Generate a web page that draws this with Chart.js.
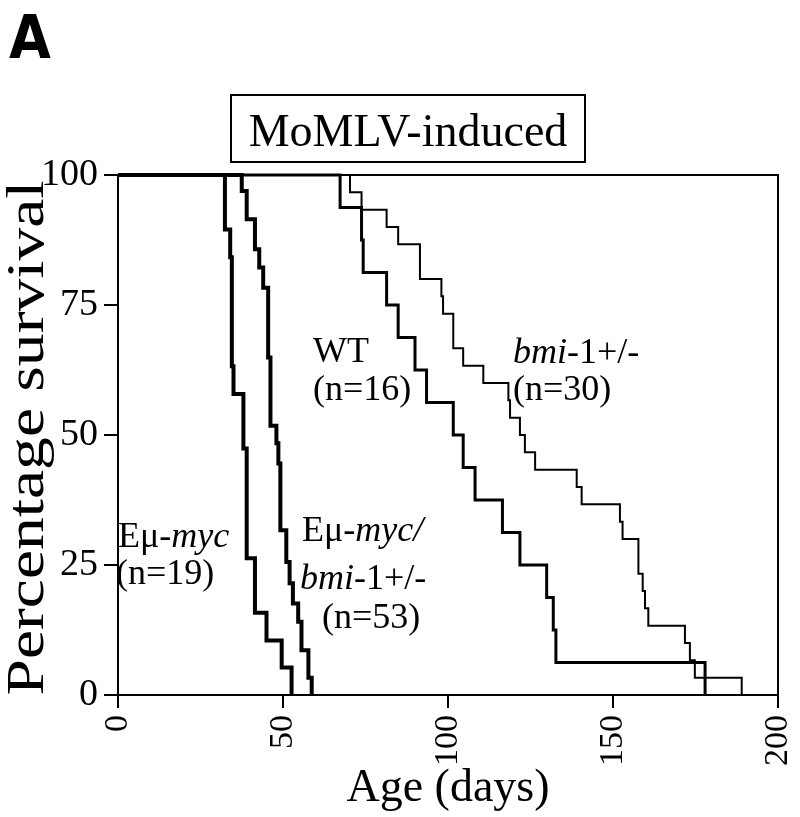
<!DOCTYPE html>
<html>
<head>
<meta charset="utf-8">
<script src="https://cdn.jsdelivr.net/npm/chart.js@4.4.0/dist/chart.umd.min.js"></script>
<style>
  html, body { margin: 0; padding: 0; background: #fff; }
</style>
</head>
<body>
<canvas id="survChart" width="800" height="817"></canvas>
<script>
// survival curves: day of each drop and % still alive after it
const mycDays = [0, 32.4, 34, 34.5, 35, 38, 39, 41.5, 45, 49.6, 52.6];
const mycSurv = [100, 89.5, 84.2, 63.2, 57.9, 47.4, 26.3, 15.8, 10.5, 5.3, 0];

const mycBmiDays = [0, 37.5, 39, 41.5, 42.8, 44, 45.5, 46.2, 48, 48.6, 49.2, 51, 52, 53, 54.6, 55.6, 57.7, 58.7];
const mycBmiSurv = [100, 96.9, 91.5, 85.7, 82.2, 78.3, 64.9, 51.8, 48.4, 44.5, 31.7, 25.6, 21.5, 17.6, 14.1, 8.6, 3.3, 0];

const wtDays = [0, 67.3, 73.8, 74.3, 81.4, 84.9, 90, 93.5, 101.6, 104.6, 108.2, 116.5, 121.8, 129.9, 131.9, 132.7, 177.9];
const wtSurv = [100, 93.75, 87.5, 81.25, 75, 68.75, 62.5, 56.25, 50, 43.75, 37.5, 31.25, 25, 18.75, 12.5, 6.25, 0];

const bmiDays = [0, 70.3, 73.8, 81.4, 84.9, 91.5, 98, 98.5, 101.6, 104.6, 110.7, 118.3, 118.8, 121.8, 123.3, 126.4,
                 139, 140.5, 152.1, 152.9, 157.7, 159, 159.7, 160.7, 171.8, 173.3, 174.8, 189];
const bmiSurv = [100, 96.67, 93.33, 90, 86.67, 80, 76.67, 73.33, 66.67, 63.33, 60, 56.67, 53.33, 50, 46.67, 43.33,
                 40, 36.67, 33.33, 30, 23.33, 20, 16.67, 13.33, 10, 6.67, 3.33, 0];

const xTicks = [0, 50, 100, 150, 200];
const yTicks = [0, 25, 50, 75, 100];

const serif = "'Liberation Serif', 'Times New Roman', serif";

function toPoints(days, surv) {
    return days.map((d, i) => ({ x: d, y: surv[i] }));
}

function curve(days, surv, width) {
    return {
        data: toPoints(days, surv),
        stepped: true,
        borderColor: '#000',
        borderWidth: width,
        pointRadius: 0,
        fill: false,
        clip: 8
    };
}

// draw a line of text made of plain/italic pieces
function drawRuns(ctx, x, y, runs, size) {
    ctx.textBaseline = 'alphabetic';
    ctx.textAlign = 'left';
    runs.forEach(r => {
        ctx.font = (r[1] ? 'italic ' : '') + size + 'px ' + serif;
        ctx.fillText(r[0], x, y);
        x += ctx.measureText(r[0]).width;
    });
}

const decorations = {
    id: 'decorations',
    afterDraw(chart) {
        const ctx = chart.ctx;
        const a = chart.chartArea;
        ctx.save();
        ctx.strokeStyle = '#000';
        ctx.fillStyle = '#000';

        // top and right edges of the frame
        ctx.lineWidth = 2;
        ctx.beginPath();
        ctx.moveTo(a.left, a.top);
        ctx.lineTo(a.right, a.top);
        ctx.lineTo(a.right, a.bottom);
        ctx.stroke();

        // panel letter
        ctx.font = "bold 60px 'DejaVu Sans Condensed', 'Liberation Sans Narrow', sans-serif";
        ctx.textBaseline = 'alphabetic';
        ctx.textAlign = 'left';
        ctx.fillText('A', 9, 58);

        // boxed title
        ctx.lineWidth = 2;
        ctx.strokeRect(231, 95, 354, 67);
        ctx.font = '46px ' + serif;
        ctx.textAlign = 'center';
        ctx.fillText('MoMLV-induced', 408, 146);

        // y axis title, set by hand so it can run the full height of the frame
        ctx.save();
        ctx.translate(29, (a.top + a.bottom) / 2 + 3);
        ctx.rotate(-Math.PI / 2);
        ctx.font = '52px ' + serif;
        ctx.textBaseline = 'middle';
        ctx.textAlign = 'center';
        const w = ctx.measureText('Percentage survival').width;
        ctx.scale(515 / w, 1);
        ctx.fillText('Percentage survival', 0, 0);
        ctx.restore();

        // curve labels
        const s = 36;
        drawRuns(ctx, 313, 362, [['WT', false]], s);
        drawRuns(ctx, 313, 400, [['(n=16)', false]], s);
        drawRuns(ctx, 513, 363, [['bmi', true], ['-1+/-', false]], s);
        drawRuns(ctx, 513, 400, [['(n=30)', false]], s);
        drawRuns(ctx, 118, 547, [['E\u03bc-', false], ['myc', true]], s);
        drawRuns(ctx, 116, 584, [['(n=19)', false]], s);
        drawRuns(ctx, 302, 541, [['E\u03bc-', false], ['myc/', true]], s);
        drawRuns(ctx, 300, 589, [['bmi', true], ['-1+/-', false]], s);
        drawRuns(ctx, 322, 628, [['(n=53)', false]], s);
        ctx.restore();
    }
};

const ctx = document.getElementById('survChart').getContext('2d');
const survChart = new Chart(ctx, {
    type: 'line',
    data: {
        datasets: [
            curve(mycDays, mycSurv, 4),
            curve(mycBmiDays, mycBmiSurv, 4),
            curve(wtDays, wtSurv, 3),
            curve(bmiDays, bmiSurv, 2)
        ]
    },
    options: {
        responsive: false,
        animation: false,
        layout: {
            padding: { top: 175, right: 22, bottom: 0, left: 0 }
        },
        plugins: {
            legend: { display: false },
            tooltip: { enabled: false }
        },
        scales: {
            x: {
                type: 'linear',
                min: 0,
                max: 200,
                afterBuildTicks: (scale) => { scale.ticks = xTicks.map(v => ({ value: v })); },
                afterFit: (scale) => {
                    scale.height = 122;
                    scale.paddingLeft = 0;
                    scale.paddingRight = 0;
                },
                border: { color: '#000', width: 2 },
                grid: { drawOnChartArea: false, tickLength: 13, color: '#000', lineWidth: 2 },
                ticks: {
                    minRotation: 90,
                    maxRotation: 90,
                    padding: 7,
                    color: '#000',
                    font: { family: serif, size: 34 }
                },
                title: {
                    display: true,
                    text: 'Age (days)',
                    color: '#000',
                    font: { family: serif, size: 46 },
                    padding: { top: 0, bottom: 0 }
                }
            },
            y: {
                min: 0,
                max: 100,
                afterBuildTicks: (scale) => { scale.ticks = yTicks.map(v => ({ value: v })); },
                afterFit: (scale) => {
                    scale.width = 118;
                    scale.paddingTop = 0;
                    scale.paddingBottom = 0;
                },
                border: { color: '#000', width: 2 },
                grid: { drawOnChartArea: false, tickLength: 14, color: '#000', lineWidth: 2 },
                ticks: {
                    padding: 6,
                    color: '#000',
                    font: { family: serif, size: 38 }
                }
            }
        }
    },
    plugins: [decorations]
});
</script>
</body>
</html>
